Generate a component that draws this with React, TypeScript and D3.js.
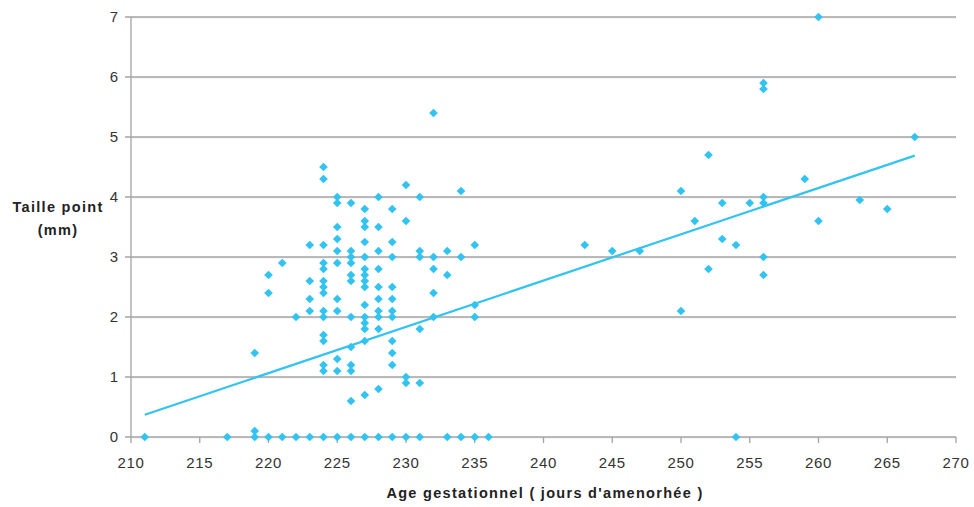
import React from "react";
import * as d3 from "d3";

const ageDays: number[] = [
  211,
  217,
  219, 219, 219,
  220, 220, 220,
  221, 221,
  222, 222,
  223, 223, 223, 223, 223,
  224, 224, 224, 224, 224, 224, 224, 224, 224, 224, 224, 224, 224, 224, 224,
  225, 225, 225, 225, 225, 225, 225, 225, 225, 225, 225,
  226, 226, 226, 226, 226, 226, 226, 226, 226, 226, 226, 226,
  227, 227, 227, 227, 227, 227, 227, 227, 227, 227, 227, 227, 227, 227, 227, 227,
  228, 228, 228, 228, 228, 228, 228, 228, 228, 228, 228,
  229, 229, 229, 229, 229, 229, 229, 229, 229, 229, 229,
  230, 230, 230, 230, 230,
  231, 231, 231, 231, 231, 231,
  232, 232, 232, 232, 232,
  233, 233, 233,
  234, 234, 234,
  235, 235, 235, 235,
  236,
  243, 245, 247,
  250, 250, 251, 252, 252, 253, 253, 254, 254, 255,
  256, 256, 256, 256, 256, 256,
  259, 260, 260, 263, 265, 267,
];

const sizeMm: number[] = [
  0,
  0,
  1.4, 0.1, 0,
  2.7, 2.4, 0,
  2.9, 0,
  2.0, 0,
  3.2, 2.6, 2.3, 2.1, 0,
  4.5, 4.3, 3.2, 2.9, 2.8, 2.6, 2.5, 2.4, 2.1, 2.0, 1.7, 1.6, 1.2, 1.1, 0,
  4.0, 3.9, 3.5, 3.3, 3.1, 2.9, 2.3, 2.1, 1.3, 1.1, 0,
  3.9, 3.1, 3.0, 2.9, 2.7, 2.6, 2.0, 1.5, 1.2, 1.1, 0.6, 0,
  3.8, 3.6, 3.5, 3.25, 3.0, 2.8, 2.7, 2.6, 2.5, 2.2, 2.0, 1.9, 1.8, 1.6, 0.7, 0,
  4.0, 3.5, 3.1, 2.8, 2.5, 2.3, 2.1, 2.0, 1.8, 0.8, 0,
  3.8, 3.25, 3.0, 2.5, 2.3, 2.1, 2.0, 1.6, 1.4, 1.2, 0,
  4.2, 3.6, 1.0, 0.9, 0,
  4.0, 3.1, 3.0, 1.8, 0.9, 0,
  5.4, 3.0, 2.8, 2.4, 2.0,
  3.1, 2.7, 0,
  4.1, 3.0, 0,
  3.2, 2.2, 2.0, 0,
  0,
  3.2, 3.1, 3.1,
  4.1, 2.1, 3.6, 4.7, 2.8, 3.9, 3.3, 3.2, 0, 3.9,
  5.9, 5.8, 4.0, 3.9, 3.0, 2.7,
  4.3, 7.0, 3.6, 3.95, 3.8, 5.0,
];

// linear trend line endpoints
const trendX: number[] = [211, 267];
const trendY: number[] = [0.37, 4.69];

const xTicks: number[] = [210, 215, 220, 225, 230, 235, 240, 245, 250, 255, 260, 265, 270];
const yTicks: number[] = [0, 1, 2, 3, 4, 5, 6, 7];

const xTitle = "Age gestationnel ( jours d'amenorhée )";
const yTitleLines = ["Taille point", "(mm)"];

const W = 974;
const H = 507;
const M = { left: 131, right: 956, top: 17, bottom: 437 };
const COLOR = "#33c3f0";
const GRID = "#a3a3a3";
const FONT = "'Liberation Sans', Arial, sans-serif";

export default function App() {
  const x = d3.scaleLinear().domain([210, 270]).range([M.left, M.right]);
  const y = d3.scaleLinear().domain([0, 7]).range([M.bottom, M.top]);
  const diamond = d3.symbol(d3.symbolSquare, 38)() as string;
  const line = d3
    .line<number>()
    .x((_, i) => x(trendX[i]))
    .y((d) => y(d));

  return (
    <svg
      width={W}
      height={H}
      style={{ position: "absolute", left: 0, top: 0, background: "#fff" }}
      fontFamily={FONT}
    >
      {/* horizontal gridlines */}
      {yTicks.map((t) => (
        <g key={"g" + t}>
          <line x1={M.left} x2={M.right} y1={y(t) + 1} y2={y(t) + 1} stroke="#ececec" strokeWidth={1} />
          <line x1={M.left - 6} x2={M.right} y1={y(t)} y2={y(t)} stroke={GRID} strokeWidth={1.3} />
        </g>
      ))}
      {/* y axis */}
      <line x1={M.left} x2={M.left} y1={M.top} y2={M.bottom} stroke={GRID} strokeWidth={1.3} />
      {/* x ticks */}
      {xTicks.map((t) => (
        <line key={"xt" + t} x1={x(t)} x2={x(t)} y1={M.bottom} y2={M.bottom + 6} stroke={GRID} strokeWidth={1.3} />
      ))}
      {/* y tick labels */}
      {yTicks.map((t) => (
        <text key={"yl" + t} x={M.left - 13} y={y(t) + 5} textAnchor="end" fontSize={15} fill="#333">
          {t}
        </text>
      ))}
      {/* x tick labels */}
      {xTicks.map((t) => (
        <text key={"xl" + t} x={x(t)} y={M.bottom + 31} textAnchor="middle" fontSize={15} letterSpacing={0.6} fill="#333">
          {t}
        </text>
      ))}
      {/* axis titles */}
      <text x={545} y={498} textAnchor="middle" fontSize={14.5} fontWeight="bold" letterSpacing={1.3} fill="#222">
        {xTitle}
      </text>
      {yTitleLines.map((s, i) => (
        <text key={s} x={58} y={212 + i * 23} textAnchor="middle" fontSize={14.5} fontWeight="bold" letterSpacing={1.3} fill="#222">
          {s}
        </text>
      ))}
      {/* points */}
      {ageDays.map((a, i) => (
        <path
          key={"p" + i}
          d={diamond}
          transform={`translate(${x(a)},${y(sizeMm[i])}) rotate(45)`}
          fill={COLOR}
        />
      ))}
      {/* trend line */}
      <path d={line(trendY) || ""} fill="none" stroke={COLOR} strokeWidth={2.2} />
    </svg>
  );
}
